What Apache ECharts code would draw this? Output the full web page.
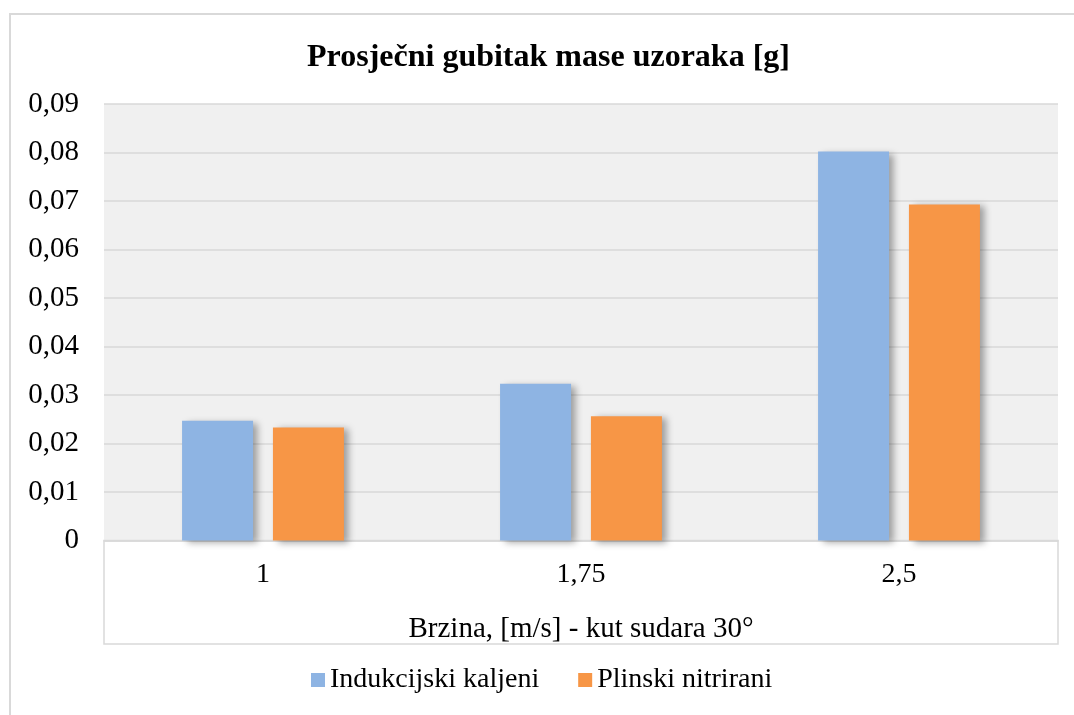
<!DOCTYPE html>
<html>
<head>
<meta charset="utf-8">
<script src="https://cdn.jsdelivr.net/npm/echarts@6/dist/echarts.min.js"></script>
<style>html,body{margin:0;padding:0;background:#fff}#c{width:1074px;height:715px}</style>
</head>
<body>
<div id="c"></div>
<script>
const titleText = 'Prosječni gubitak mase uzoraka [g]';
const xAxisName = 'Brzina, [m/s] - kut sudara 30°';
const categories = ['1', '1,75', '2,5'];
const seriesNames = ['Indukcijski kaljeni', 'Plinski nitrirani'];
const induk = [0.0247, 0.0323, 0.0802];
const plinski = [0.0233, 0.0256, 0.0693];
const yTickLabels = ['0', '0,01', '0,02', '0,03', '0,04', '0,05', '0,06', '0,07', '0,08', '0,09'];

const font = '"Liberation Serif", "Times New Roman", serif';
const chart = echarts.init(document.getElementById('c'), null, {renderer: 'canvas'});
const shadow = {shadowColor: 'rgba(0,0,0,0.35)', shadowBlur: 7, shadowOffsetX: 5, shadowOffsetY: 2};
chart.setOption({
  animation: false,
  backgroundColor: '#fff',
  graphic: [{
    type: 'rect', shape: {x: 10, y: 14, width: 1200, height: 900},
    style: {fill: 'none', stroke: '#d9d9d9', lineWidth: 2}, z: -10
  }],
  title: {
    text: titleText, left: 302, top: 37,
    textStyle: {fontFamily: font, fontSize: 32, fontWeight: 'bold', color: '#000'}
  },
  legend: {
    data: seriesNames, left: 311, top: 666, padding: 0, itemWidth: 14, itemHeight: 14, itemGap: 39,
    icon: 'rect',
    textStyle: {fontFamily: font, fontSize: 28, color: '#000'}
  },
  grid: [
    {left: 104, right: 16, top: 104, bottom: 174.5, show: true, backgroundColor: '#f0f0f0', borderWidth: 0, containLabel: false},
    {left: 104, right: 16, top: 540.5, height: 103.5, show: true, backgroundColor: '#fff', borderColor: '#d9d9d9', borderWidth: 1.5, z: 0}
  ],
  xAxis: [{
    type: 'category', data: categories, gridIndex: 0,
    name: xAxisName, nameLocation: 'middle', nameGap: 74,
    nameTextStyle: {fontFamily: font, fontSize: 29, color: '#000', verticalAlign: 'top'},
    axisLine: {show: true, lineStyle: {color: '#d9d9d9', width: 1.5}},
    axisTick: {show: false},
    axisLabel: {fontFamily: font, fontSize: 28, color: '#000', margin: 20}
  }, {
    type: 'category', data: [], gridIndex: 1, show: false
  }],
  yAxis: [{
    type: 'value', min: 0, max: 0.09, interval: 0.01, gridIndex: 0,
    axisLine: {show: false}, axisTick: {show: false},
    splitLine: {lineStyle: {color: '#d9d9d9', width: 1.5}},
    axisLabel: {
      fontFamily: font, fontSize: 29, color: '#000', margin: 25,
      formatter: (v) => yTickLabels[Math.round(v * 100)]
    }
  }, {
    type: 'value', gridIndex: 1, show: false
  }],
  series: [{
    name: seriesNames[0], type: 'bar', data: induk, barWidth: 71, barGap: '28%',
    itemStyle: Object.assign({color: '#8EB4E3'}, shadow)
  }, {
    name: seriesNames[1], type: 'bar', data: plinski, barWidth: 71, barGap: '28%',
    itemStyle: Object.assign({color: '#F79646'}, shadow)
  }]
});
</script>
</body>
</html>
